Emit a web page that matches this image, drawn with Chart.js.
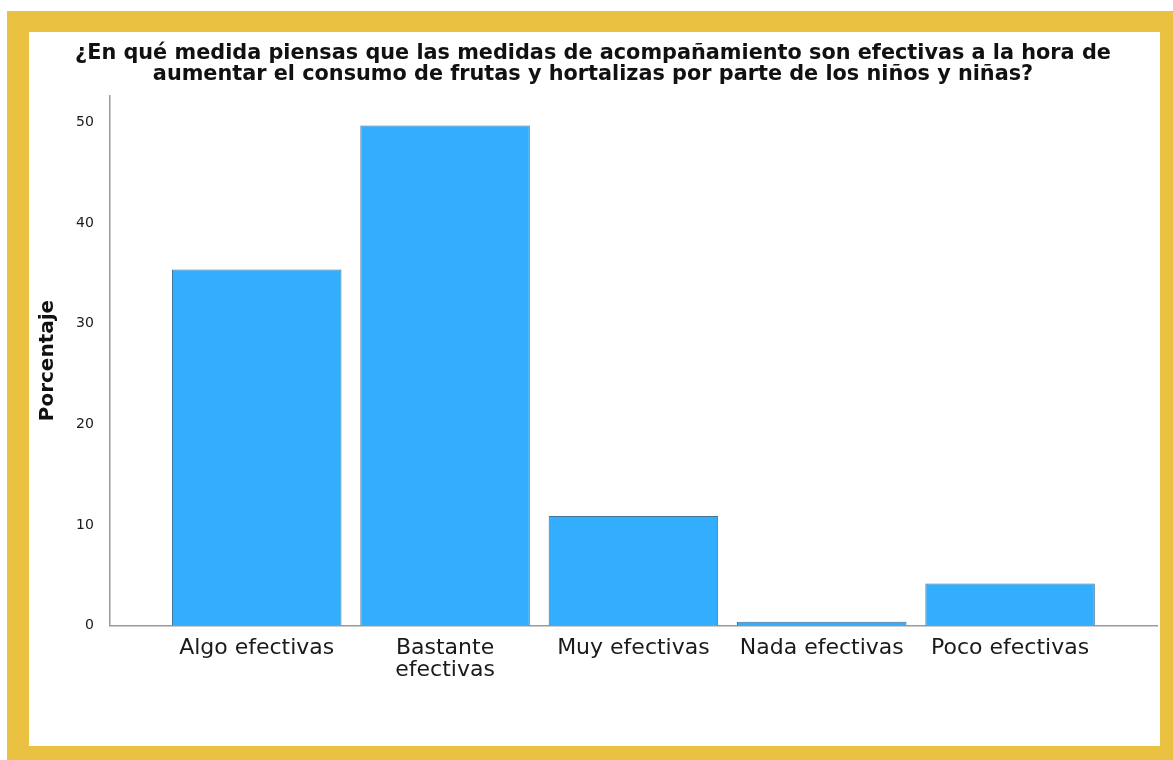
<!DOCTYPE html>
<html>
<head>
<meta charset="utf-8">
<script src="https://cdn.jsdelivr.net/npm/chart.js@4"></script>
<style>
    body { margin: 0; background: #fff; }
    #frame { position: absolute; left: 7px; top: 11px; width: 1166px; height: 749px; background: #ebc141; }
    #inner { position: absolute; left: 22px; top: 21px; width: 1131px; height: 714px; background: #fff; }
    canvas { display: block; }
</style>
</head>
<body>
<div id="frame">
    <div id="inner">
        <canvas id="barChart" width="1131" height="714"></canvas>
    </div>
</div>
<script>
const categories = ['Algo efectivas', ['Bastante', 'efectivas'], 'Muy efectivas', 'Nada efectivas', 'Poco efectivas'];
const porcentajes = [35.4, 49.7, 10.9, 0.4, 4.2];
const yTicks = [0, 10, 20, 30, 40, 50];

const titleLines = [
    '¿En qué medida piensas que las medidas de acompañamiento son efectivas a la hora de',
    'aumentar el consumo de frutas y hortalizas por parte de los niños y niñas?'
];

const ctx = document.getElementById('barChart').getContext('2d');

new Chart(ctx, {
    type: 'bar',
    data: {
        datasets: [{
            label: 'Porcentaje',
            data: porcentajes.map((v, i) => ({ x: i, y: v })),
            backgroundColor: '#33adfd',
            borderColor: '#44709a',
            borderWidth: 1,
            categoryPercentage: 1,
            barPercentage: 0.9
        }]
    },
    options: {
        responsive: false,
        animation: false,
        layout: { padding: { top: 8, left: 0, right: 3, bottom: 61 } },
        plugins: {
            legend: { display: false },
            tooltip: { enabled: false },
            title: {
                display: true,
                text: titleLines,
                color: '#111',
                font: { family: 'DejaVu Sans', size: 20.8, weight: 'bold', lineHeight: 1.02 },
                padding: { top: 3, bottom: 10 }
            }
        },
        scales: {
            x: {
                type: 'linear',
                offset: false,
                min: -0.78,
                max: 4.78,
                afterBuildTicks: (axis) => {
                    axis.ticks = categories.map((c, i) => ({ value: i }));
                },
                grid: { display: false },
                border: { display: true, color: '#9a9a9a', width: 1.5 },
                ticks: {
                    autoSkip: false,
                    maxRotation: 0,
                    padding: 3,
                    color: '#1a1a1a',
                    font: { family: 'DejaVu Sans', size: 22, lineHeight: 1.03 },
                    callback: (value) => categories[value]
                }
            },
            y: {
                min: 0,
                max: 52.7,
                afterBuildTicks: (axis) => {
                    axis.ticks = yTicks.map(v => ({ value: v }));
                },
                grid: { display: false },
                border: { display: true, color: '#9a9a9a', width: 1.5 },
                ticks: {
                    padding: 8,
                    color: '#1a1a1a',
                    font: { family: 'DejaVu Sans', size: 14 }
                },
                title: {
                    display: true,
                    text: 'Porcentaje',
                    color: '#111',
                    font: { family: 'DejaVu Sans', size: 20, weight: 'bold' },
                    padding: { top: 7, bottom: 8 }
                }
            }
        }
    }
});
</script>
</body>
</html>
